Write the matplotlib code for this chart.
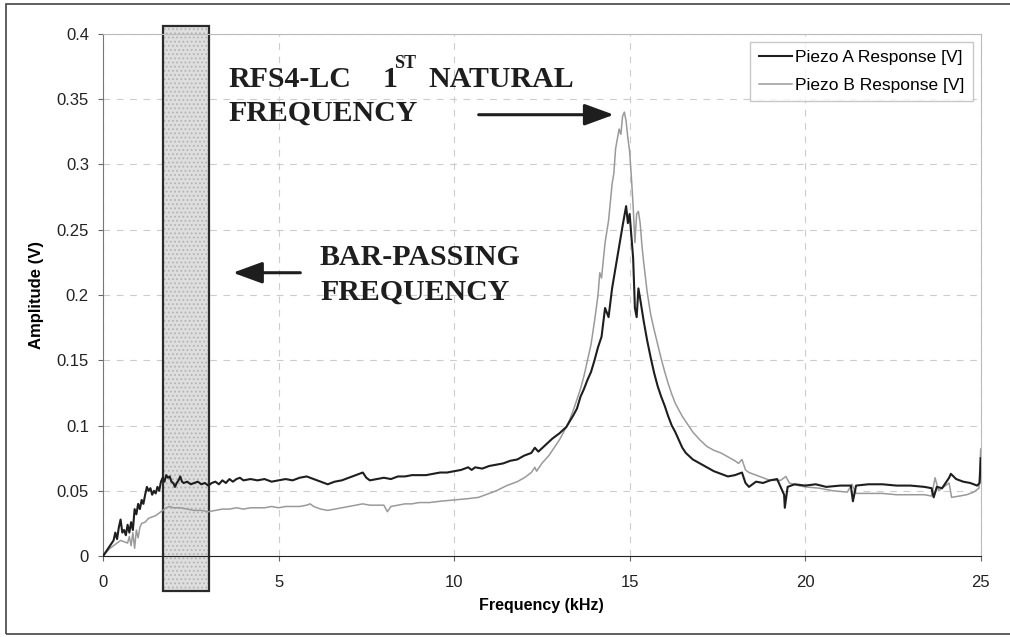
import matplotlib
matplotlib.use("Agg")
import matplotlib.pyplot as plt
from matplotlib.patches import Rectangle

# Data
freq_a = [0.0, 0.1, 0.2, 0.3, 0.35, 0.4, 0.45, 0.5, 0.55, 0.6, 0.65, 0.7, 0.75, 0.8, 0.85, 0.9,
          0.95, 1.0, 1.05, 1.1, 1.15, 1.2, 1.25, 1.3, 1.35, 1.4, 1.45, 1.5, 1.55, 1.6, 1.65, 1.7,
          1.75, 1.8, 1.85, 1.9, 1.95, 2.0, 2.05, 2.1, 2.15, 2.2, 2.25, 2.3, 2.4, 2.5, 2.6, 2.7,
          2.8, 2.9, 3.0, 3.1, 3.2, 3.3, 3.4, 3.5, 3.6, 3.7, 3.8, 3.9, 4.0, 4.2, 4.4, 4.6, 4.8,
          5.0, 5.2, 5.4, 5.6, 5.8, 5.9, 6.0, 6.2, 6.4, 6.6, 6.8, 7.0, 7.2, 7.4, 7.5, 7.6, 7.8,
          8.0, 8.2, 8.4, 8.6, 8.8, 9.0, 9.2, 9.4, 9.6, 9.8, 10.0, 10.2, 10.4, 10.5, 10.6, 10.8,
          11.0, 11.2, 11.4, 11.6, 11.8, 12.0, 12.2, 12.3, 12.4, 12.6, 12.8, 13.0, 13.2, 13.4,
          13.5, 13.6, 13.7, 13.8, 13.9, 14.0, 14.1, 14.2, 14.3, 14.4, 14.5, 14.6, 14.7, 14.8,
          14.9, 14.95, 15.0, 15.05, 15.1, 15.15, 15.2, 15.25, 15.3, 15.4, 15.5, 15.6, 15.7, 15.8,
          15.9, 16.0, 16.1, 16.2, 16.3, 16.4, 16.5, 16.6, 16.8, 17.0, 17.2, 17.4, 17.6, 17.8,
          18.0, 18.2, 18.3, 18.4, 18.6, 18.8, 19.0, 19.2, 19.4, 19.42, 19.5, 19.7, 20.0, 20.3,
          20.6, 21.0, 21.3, 21.36, 21.45, 21.8, 22.2, 22.6, 23.0, 23.4, 23.6, 23.66, 23.75, 23.9,
          24.1, 24.15, 24.3, 24.5, 24.7, 24.9, 24.97, 25.0]
amp_a = [0.000, 0.004, 0.008, 0.012, 0.018, 0.013, 0.022, 0.028, 0.018, 0.020, 0.016, 0.024,
         0.018, 0.026, 0.020, 0.036, 0.032, 0.040, 0.036, 0.043, 0.040, 0.047, 0.053, 0.050,
         0.052, 0.047, 0.050, 0.048, 0.053, 0.050, 0.057, 0.060, 0.057, 0.062, 0.060, 0.061,
         0.057, 0.056, 0.053, 0.056, 0.058, 0.061, 0.057, 0.056, 0.057, 0.055, 0.056, 0.057,
         0.055, 0.056, 0.054, 0.056, 0.057, 0.055, 0.058, 0.056, 0.059, 0.057, 0.059, 0.060,
         0.058, 0.059, 0.058, 0.059, 0.057, 0.058, 0.059, 0.058, 0.060, 0.061, 0.060, 0.059,
         0.057, 0.055, 0.057, 0.058, 0.060, 0.062, 0.064, 0.060, 0.058, 0.059, 0.060, 0.059,
         0.061, 0.061, 0.062, 0.062, 0.062, 0.063, 0.064, 0.064, 0.065, 0.066, 0.068, 0.066,
         0.068, 0.067, 0.069, 0.070, 0.071, 0.073, 0.074, 0.077, 0.079, 0.083, 0.080, 0.085,
         0.090, 0.094, 0.099, 0.108, 0.113, 0.122, 0.128, 0.135, 0.141, 0.150, 0.160, 0.168,
         0.190, 0.183, 0.205, 0.221, 0.237, 0.253, 0.268, 0.255, 0.262, 0.245, 0.228, 0.190,
         0.183, 0.205, 0.197, 0.180, 0.165, 0.152, 0.140, 0.130, 0.122, 0.115, 0.107, 0.100,
         0.095, 0.089, 0.083, 0.079, 0.074, 0.071, 0.068, 0.065, 0.063, 0.061, 0.062, 0.064,
         0.056, 0.053, 0.057, 0.056, 0.058, 0.059, 0.047, 0.037, 0.053, 0.055, 0.054, 0.055,
         0.053, 0.054, 0.054, 0.042, 0.054, 0.055, 0.055, 0.054, 0.054, 0.053, 0.052, 0.045,
         0.053, 0.052, 0.060, 0.063, 0.059, 0.057, 0.056, 0.054, 0.056, 0.075]

freq_b = [0.0, 0.1, 0.2, 0.3, 0.4, 0.5, 0.6, 0.7, 0.75, 0.8, 0.85, 0.9, 0.95, 1.0, 1.05, 1.1,
          1.2, 1.3, 1.4, 1.5, 1.6, 1.7, 1.8, 1.9, 2.0, 2.2, 2.4, 2.6, 2.8, 3.0, 3.2, 3.4, 3.6,
          3.8, 4.0, 4.2, 4.4, 4.6, 4.8, 5.0, 5.2, 5.4, 5.6, 5.8, 5.9, 6.0, 6.2, 6.4, 6.6, 6.8,
          7.0, 7.2, 7.4, 7.6, 7.8, 8.0, 8.1, 8.2, 8.4, 8.6, 8.8, 9.0, 9.3, 9.6, 10.0, 10.4, 10.7,
          11.0, 11.2, 11.5, 11.8, 12.0, 12.2, 12.3, 12.35, 12.5, 12.7, 12.9, 13.0, 13.2, 13.3,
          13.4, 13.5, 13.6, 13.7, 13.8, 13.9, 14.0, 14.1, 14.15, 14.2, 14.3, 14.4, 14.5, 14.55,
          14.6, 14.7, 14.75, 14.8, 14.85, 14.9, 14.95, 15.0, 15.05, 15.1, 15.15, 15.2, 15.25,
          15.3, 15.35, 15.4, 15.5, 15.6, 15.7, 15.8, 15.9, 16.0, 16.1, 16.2, 16.3, 16.4, 16.5,
          16.6, 16.8, 17.0, 17.2, 17.4, 17.6, 17.8, 18.0, 18.1, 18.2, 18.3, 18.4, 18.6, 18.8,
          19.0, 19.3, 19.45, 19.55, 19.8, 20.0, 20.4, 20.8, 21.2, 21.33, 21.45, 21.8, 22.2, 22.6,
          23.0, 23.4, 23.6, 23.7, 23.8, 24.0, 24.1, 24.17, 24.4, 24.6, 24.8, 24.95, 25.0]
amp_b = [0.000, 0.003, 0.006, 0.008, 0.010, 0.012, 0.011, 0.010, 0.015, 0.008, 0.018, 0.006,
         0.020, 0.014, 0.022, 0.025, 0.026, 0.029, 0.030, 0.031, 0.033, 0.035, 0.037, 0.038,
         0.037, 0.037, 0.036, 0.035, 0.035, 0.034, 0.035, 0.036, 0.036, 0.037, 0.036, 0.037,
         0.037, 0.037, 0.038, 0.037, 0.038, 0.038, 0.038, 0.039, 0.040, 0.038, 0.036, 0.035,
         0.036, 0.037, 0.038, 0.039, 0.040, 0.039, 0.039, 0.039, 0.034, 0.038, 0.039, 0.040,
         0.040, 0.041, 0.041, 0.042, 0.043, 0.044, 0.045, 0.048, 0.050, 0.054, 0.057, 0.060,
         0.064, 0.068, 0.065, 0.071, 0.077, 0.085, 0.089, 0.099, 0.105, 0.112, 0.120, 0.128,
         0.138, 0.150, 0.162, 0.180, 0.200, 0.217, 0.213, 0.240, 0.257, 0.285, 0.293, 0.312,
         0.327, 0.323, 0.337, 0.340, 0.333, 0.320, 0.310, 0.290, 0.268, 0.240, 0.262, 0.264,
         0.255, 0.238, 0.225, 0.202, 0.185, 0.173, 0.162, 0.151, 0.141, 0.132, 0.124, 0.117,
         0.112, 0.107, 0.103, 0.095, 0.089, 0.084, 0.081, 0.079, 0.076, 0.073, 0.071, 0.074,
         0.066, 0.064, 0.062, 0.060, 0.058, 0.058, 0.061, 0.056, 0.054, 0.053, 0.052, 0.050,
         0.049, 0.055, 0.048, 0.048, 0.048, 0.047, 0.047, 0.047, 0.046, 0.060, 0.050, 0.054,
         0.056, 0.045, 0.046, 0.047, 0.049, 0.052, 0.082]

x_ticks = [0, 5, 10, 15, 20, 25]
y_ticks = [0, 0.05, 0.1, 0.15, 0.2, 0.25, 0.3, 0.35, 0.4]
y_tick_labels = ["0", "0.05", "0.1", "0.15", "0.2", "0.25", "0.3", "0.35", "0.4"]
band = (1.72, 3.03)  # bar-passing frequency band (kHz)

plt.rcParams['font.family'] = ['Liberation Sans', 'DejaVu Sans']
plt.rcParams['hatch.linewidth'] = 0.8

fig = plt.figure(figsize=(10.10, 6.37), dpi=100)
ax = fig.add_axes([0.102, 0.127, 0.869, 0.820])

# outer frame
fig.patches.append(Rectangle((0.006, 0.004), 1.0, 0.99, transform=fig.transFigure,
                             fill=False, edgecolor='#444444', lw=1.2))

ax.plot(freq_a, amp_a, color='#1e1e1e', lw=1.5, label='Piezo A Response [V]', zorder=4)
ax.plot(freq_b, amp_b, color='#9a9a9a', lw=1.1, label='Piezo B Response [V]', zorder=3)

ax.set_xlim(0, 25)
ax.set_ylim(0, 0.4)
ax.set_xticks(x_ticks)
ax.set_yticks(y_ticks)
ax.set_yticklabels(y_tick_labels)
ax.tick_params(axis='both', labelsize=12, colors='#666666', labelcolor='#222222', length=3.6)
ax.tick_params(axis='x', pad=10)
ax.tick_params(axis='y', pad=6.5)

ax.grid(True, color='#cccccc', linestyle=(0, (6, 6)), lw=0.8)
ax.set_axisbelow(True)
for side in ['top', 'right']:
    ax.spines[side].set_color('#bbbbbb')
ax.spines['left'].set_color('#777777')
ax.spines['bottom'].set_color('#222222')

ax.set_xlabel('Frequency (kHz)', fontsize=11.5, fontweight='bold', labelpad=6,
              family=['Liberation Sans Narrow', 'Liberation Sans'])
ax.set_ylabel('Amplitude (V)', fontsize=12, fontweight='bold', labelpad=9,
              family=['Liberation Sans Narrow', 'Liberation Sans'])

# shaded band
w = band[1] - band[0]
ax.add_patch(Rectangle((band[0], -0.0266), w, 0.4326, facecolor='#dedede', edgecolor='#b4b4b4',
                       hatch='....', lw=0, clip_on=False, zorder=2))
ax.add_patch(Rectangle((band[0], -0.0266), w, 0.4326, fill=False, edgecolor='#2a2a2a',
                       lw=1.6, clip_on=False, zorder=2.5))

# annotations
serif = dict(family=['Liberation Serif', 'DejaVu Serif'], fontweight='bold', color='#1e1e1e')
ax.text(3.56, 0.3594, 'RFS4-LC', fontsize=21.5, va='baseline', **serif)
ax.text(7.97, 0.3594, '1', fontsize=21.5, va='baseline', **serif)
ax.text(8.3, 0.3735, 'ST', fontsize=13, va='baseline', **serif)
ax.text(9.28, 0.3594, 'NATURAL', fontsize=21.5, va='baseline', **serif)
ax.text(3.56, 0.3333, 'FREQUENCY', fontsize=21.5, va='baseline', **serif)
ax.text(6.18, 0.223, 'BAR-PASSING', fontsize=21.5, va='baseline', **serif)
ax.text(6.18, 0.196, 'FREQUENCY', fontsize=21.5, va='baseline', **serif)

arrow = dict(arrowstyle='-|>,head_length=0.6,head_width=0.22', lw=2.2, color='#1e1e1e',
             mutation_scale=30, shrinkA=0, shrinkB=0)
ax.annotate('', xy=(14.55, 0.338), xytext=(10.7, 0.338), arrowprops=arrow)
ax.annotate('', xy=(3.70, 0.217), xytext=(5.62, 0.217), arrowprops=arrow)

leg = ax.legend(loc='upper right', bbox_to_anchor=(0.991, 0.985), borderaxespad=0,
                fontsize=12.5, frameon=True, fancybox=False, handlelength=1.9,
                handletextpad=0.15, borderpad=0.5, labelspacing=0.7)
leg.get_frame().set_edgecolor('#bbbbbb')
leg.get_frame().set_linewidth(1.0)

fig.savefig('out.png', dpi=100)
